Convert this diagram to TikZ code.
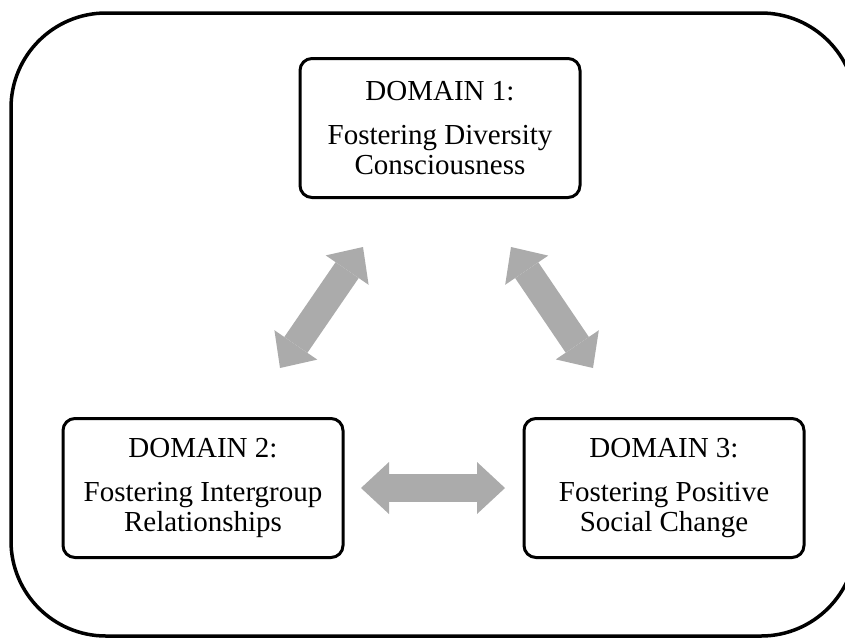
\documentclass[tikz,border=0pt]{standalone}
\usepackage{fontspec}
\setmainfont{Liberation Serif}
\usetikzlibrary{arrows.meta}
\definecolor{linkgray}{HTML}{ABABAB}
\begin{document}
\begin{tikzpicture}[x=1pt,y=-1pt,
  domainbox/.style={draw=black, line width=3pt, rounded corners=12pt,
    minimum width=280pt, minimum height=139pt, align=center,
    font=\fontsize{29}{30}\selectfont, inner sep=0pt},
  tipgray/.tip={Triangle[length=28pt,width=52pt,line width=0pt]},
  link/.style={draw=linkgray, line width=28pt, tipgray-tipgray}]
  \useasboundingbox (0,0) rectangle (845,641);
  \clip (0,0) rectangle (845,641);
  % outer frame
  \draw[line width=3.5pt, rounded corners=95pt] (11,13) rectangle (856,636);
  % the three domains
  \node[domainbox] (d1) at (440,128) {DOMAIN 1:\\[14pt] Fostering Diversity\\ Consciousness};
  \node[domainbox] (d2) at (203,488) {DOMAIN 2:\\[14pt] Fostering Intergroup\\ Relationships};
  \node[domainbox] (d3) at (664,488) {DOMAIN 3:\\[14pt] Fostering Positive\\ Social Change};
  % arrow end points between the boxes
  \coordinate (a21) at (280,368);
  \coordinate (a12) at (363,247);
  \coordinate (a13) at (511,247);
  \coordinate (a31) at (593,368);
  \coordinate (a23) at (361,488);
  \coordinate (a32) at (505,488);
  % two-way links
  \draw[link] (a21) -- (a12);
  \draw[link] (a13) -- (a31);
  \draw[link] (a23) -- (a32);
\end{tikzpicture}
\end{document}
